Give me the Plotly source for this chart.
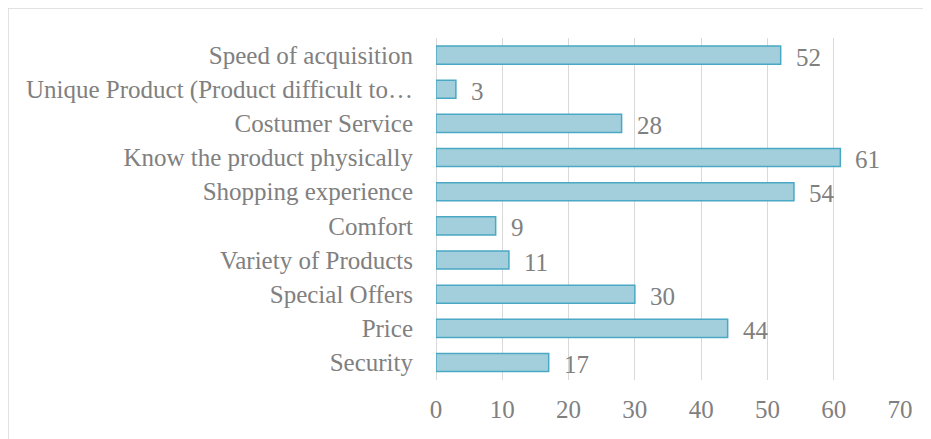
import plotly.graph_objects as go

# Reasons for shopping in physical stores (bottom to top)
categories = [
    "Security",
    "Price",
    "Special Offers",
    "Variety of Products",
    "Comfort",
    "Shopping experience",
    "Know the product physically",
    "Costumer Service",
    "Unique Product (Product difficult to…",
    "Speed of acquisition",
]
values = [17, 44, 30, 11, 9, 54, 61, 28, 3, 52]
x_ticks = [0, 10, 20, 30, 40, 50, 60, 70]

font_family = "Liberation Serif, Times New Roman, serif"
gray = "#808080"
fsize = 25

fig = go.Figure()
fig.add_trace(go.Bar(
    y=categories,
    x=values,
    orientation="h",
    width=0.53,
    marker=dict(color="#a3cfdd", line=dict(color="#4aa8c4", width=1.5)),
    hoverinfo="x+y",
))

# value labels to the right of each bar
for c, v in zip(categories, values):
    fig.add_annotation(
        x=v, y=c, text=str(v), showarrow=False,
        xanchor="left", xshift=13, yshift=-2,
        font=dict(family=font_family, size=fsize, color=gray),
    )

# page body adds an 8px margin, so the figure is sized to fit the window
fig.update_layout(
    width=923, height=431,
    margin=dict(l=428, r=31, t=30, b=59),
    paper_bgcolor="white",
    plot_bgcolor="white",
    showlegend=False,
    font=dict(family=font_family, size=fsize, color=gray),
    xaxis=dict(
        range=[0, 70],
        tickvals=x_ticks,
        showgrid=True, gridcolor="#d9d9d9", gridwidth=1,
        zeroline=True, zerolinecolor="#d9d9d9", zerolinewidth=1,
        showline=False,
        ticklabelstandoff=12,
        tickfont=dict(family=font_family, size=fsize, color=gray),
    ),
    yaxis=dict(
        categoryorder="array", categoryarray=categories,
        showgrid=False, showline=False, zeroline=False,
        ticklabelstandoff=22,
        tickfont=dict(family=font_family, size=fsize, color=gray),
    ),
    shapes=[dict(
        type="rect", xref="paper", yref="paper",
        x0=-428 / 464, x1=1.3, y0=-0.4, y1=1 + 30 / 342,
        line=dict(color="#d9d9d9", width=1.5), fillcolor="rgba(0,0,0,0)",
        layer="below",
    )],
)

fig.write_html("out.html")
